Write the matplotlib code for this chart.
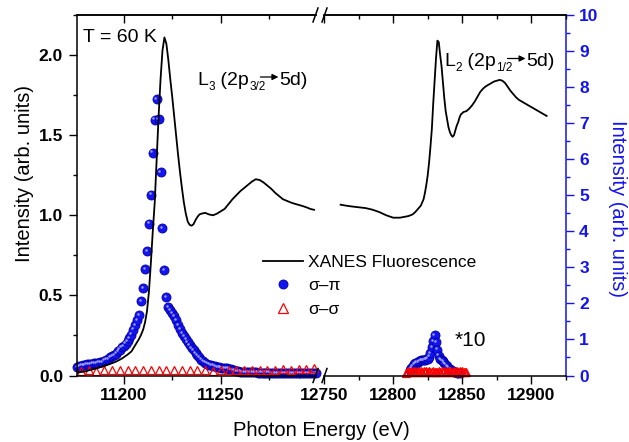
import numpy as np
import matplotlib
matplotlib.use("Agg")
import matplotlib.pyplot as plt
import matplotlib.transforms as mtransforms
from matplotlib.lines import Line2D
from matplotlib.ticker import MultipleLocator, FormatStrFormatter

plt.rcParams["font.family"] = ["Liberation Sans", "DejaVu Sans"]

# XANES fluorescence, L3 edge (left scale)
xanes_l3_e = [11176, 11180, 11186, 11190, 11193, 11196, 11199, 11202, 11204, 11206,
              11208, 11209, 11210, 11211, 11212, 11213, 11214, 11215, 11216, 11217,
              11218, 11219, 11220, 11221, 11222, 11223, 11224, 11225, 11226, 11227,
              11228, 11229, 11230, 11231, 11232, 11233, 11234, 11235, 11236, 11237,
              11238, 11239, 11240, 11242, 11244, 11246, 11248, 11250, 11252, 11254,
              11256, 11258, 11260, 11262, 11264, 11266, 11268, 11270, 11272, 11274,
              11276, 11278, 11280, 11282, 11284, 11286, 11288, 11290, 11292, 11294,
              11296, 11298]
xanes_l3_i = [0.018, 0.025, 0.045, 0.060, 0.072, 0.086, 0.105, 0.130, 0.150, 0.190,
              0.230, 0.255, 0.285, 0.330, 0.400, 0.520, 0.700, 0.900, 1.080, 1.350,
              1.620, 1.850, 2.030, 2.110, 2.070, 1.970, 1.850, 1.740, 1.620, 1.500,
              1.380, 1.270, 1.170, 1.080, 1.010, 0.960, 0.940, 0.935, 0.945, 0.970,
              0.990, 1.005, 1.010, 1.015, 1.005, 1.000, 1.010, 1.025, 1.040, 1.070,
              1.100, 1.125, 1.150, 1.170, 1.190, 1.210, 1.225, 1.220, 1.205, 1.185,
              1.165, 1.140, 1.120, 1.100, 1.090, 1.080, 1.072, 1.065, 1.058, 1.050,
              1.040, 1.034]

# XANES fluorescence, L2 edge (left scale)
xanes_l2_e = [12762, 12766, 12770, 12775, 12780, 12785, 12790, 12795, 12800, 12805,
              12808, 12811, 12814, 12816, 12818, 12820, 12822, 12823, 12824, 12825,
              12826, 12827, 12828, 12829, 12830, 12831, 12832, 12833, 12834, 12835,
              12836, 12837, 12838, 12839, 12840, 12841, 12842, 12843, 12844, 12845,
              12846, 12847, 12848, 12849, 12851, 12853, 12855, 12857, 12859, 12861,
              12863, 12865, 12867, 12869, 12871, 12873, 12875, 12877, 12879, 12881,
              12883, 12885, 12887, 12889, 12891, 12894, 12897, 12900, 12903, 12906,
              12909, 12911]
xanes_l2_i = [1.066, 1.060, 1.055, 1.050, 1.045, 1.035, 1.020, 1.000, 0.985, 0.985,
              0.990, 0.995, 1.005, 1.020, 1.040, 1.060, 1.100, 1.140, 1.190, 1.250,
              1.330, 1.430, 1.540, 1.700, 1.840, 1.980, 2.090, 2.080, 2.000, 1.930,
              1.830, 1.730, 1.650, 1.600, 1.550, 1.520, 1.500, 1.490, 1.500, 1.530,
              1.560, 1.580, 1.610, 1.630, 1.645, 1.650, 1.665, 1.685, 1.710, 1.740,
              1.770, 1.790, 1.805, 1.815, 1.825, 1.835, 1.840, 1.845, 1.840, 1.825,
              1.800, 1.775, 1.755, 1.735, 1.720, 1.705, 1.690, 1.675, 1.660, 1.645,
              1.630, 1.620]

# sigma-pi scattering, L3 (right scale), 1 eV steps from 11176 eV
sp_l3_i = [0.24, 0.26, 0.27, 0.28, 0.29, 0.31, 0.32, 0.32, 0.33, 0.34,
           0.35, 0.36, 0.37, 0.38, 0.41, 0.44, 0.46, 0.50, 0.53, 0.57,
           0.61, 0.67, 0.72, 0.78, 0.82, 0.88, 0.96, 1.03, 1.13, 1.27,
           1.40, 1.53, 1.68, 2.07, 2.42, 2.95, 3.44, 4.21, 5.02, 6.18,
           7.10, 7.67, 7.11, 5.64, 4.09, 2.93, 2.18, 1.89, 1.82, 1.73,
           1.64, 1.53, 1.40, 1.29, 1.18, 1.09, 1.01, 0.93, 0.84, 0.76,
           0.70, 0.62, 0.56, 0.50, 0.44, 0.40, 0.36, 0.33, 0.30, 0.28,
           0.27, 0.25, 0.24, 0.23, 0.22, 0.21, 0.20, 0.20, 0.19, 0.17,
           0.15, 0.14, 0.12, 0.12, 0.11, 0.10, 0.10, 0.10, 0.09, 0.09,
           0.09, 0.09, 0.09, 0.08, 0.08, 0.08, 0.08, 0.08, 0.08, 0.08,
           0.07, 0.07, 0.07, 0.07, 0.07, 0.07, 0.07, 0.07, 0.07, 0.07,
           0.07, 0.07, 0.06, 0.06, 0.06, 0.06, 0.06, 0.06, 0.06, 0.06,
           0.06, 0.06, 0.06, 0.06]
sp_l3_e = np.arange(11176, 11176 + len(sp_l3_i))

# sigma-pi scattering, L2 (right scale, x10), 1 eV steps from 12812 eV
sp_l2_i = [0.15, 0.20, 0.26, 0.31, 0.34, 0.36, 0.38, 0.40, 0.42, 0.42,
           0.43, 0.44, 0.45, 0.47, 0.52, 0.62, 0.78, 0.95, 1.12, 0.92,
           0.72, 0.55, 0.45, 0.42, 0.40, 0.35, 0.30, 0.25, 0.22, 0.18,
           0.15, 0.13, 0.11, 0.09, 0.08, 0.07, 0.06]
sp_l2_e = np.arange(12812, 12812 + len(sp_l2_i))

# sigma-sigma scattering (right scale)
ss_l3_i = [0.12, 0.14, 0.13, 0.15, 0.14, 0.16, 0.15, 0.14, 0.16, 0.15,
           0.14, 0.16, 0.15, 0.14, 0.15, 0.16, 0.14, 0.13, 0.15, 0.14,
           0.15, 0.16, 0.15, 0.14, 0.16, 0.15, 0.17, 0.16, 0.18, 0.17, 0.22]
ss_l3_e = np.arange(11178, 11178 + 4 * len(ss_l3_i), 4)
ss_l2_i = [0.08, 0.10, 0.12, 0.10, 0.11, 0.13, 0.11, 0.12, 0.10, 0.13,
           0.11, 0.12, 0.10, 0.12, 0.11, 0.13, 0.10, 0.12, 0.11, 0.10,
           0.12, 0.11, 0.09, 0.10, 0.12, 0.11, 0.13, 0.10, 0.12, 0.11,
           0.10, 0.12, 0.13, 0.11, 0.10, 0.12, 0.11, 0.13, 0.10, 0.12,
           0.11, 0.12, 0.10, 0.11, 0.09]
ss_l2_e = np.arange(12809, 12809 + len(ss_l2_i))

W, H = 629, 442
BLUE = "#1414f0"
fig = plt.figure(figsize=(W / 100, H / 100), dpi=100)


def rect(x0, y0, x1, y1):
    return [x0 / W, 1 - y1 / H, (x1 - x0) / W, (y1 - y0) / H]


axL = fig.add_axes(rect(77, 15, 316, 375.5))
axR = fig.add_axes(rect(324, 15, 566, 375.5))
axL2 = axL.twinx()
axR2 = axR.twinx()
for host, twin in ((axL, axL2), (axR, axR2)):
    host.set_zorder(twin.get_zorder() + 1)
    host.patch.set_visible(False)


def balls(ax, x, y, ms=6.5):
    ax.plot(x, y, "o", ms=ms, color=BLUE, mec="#0000a8", mew=0.6, clip_on=False)
    hl = mtransforms.offset_copy(ax.transData, fig=fig, x=-1.3, y=1.3, units="dots")
    ax.plot(x, y, "o", ms=1.8, color="#9c9cff", mew=0, transform=hl, clip_on=False)


tri = dict(marker="^", ls="none", ms=5.5, mfc="none", mec="red", mew=0.9, clip_on=False)

balls(axL2, sp_l3_e, sp_l3_i)
axL2.plot(ss_l3_e, ss_l3_i, **tri)
balls(axR2, sp_l2_e, sp_l2_i)
axR2.plot(ss_l2_e, ss_l2_i, **tri)

axL.plot(xanes_l3_e, xanes_l3_i, color="k", lw=1.3)
axR.plot(xanes_l2_e, xanes_l2_i, color="k", lw=1.3)

axL.set_xlim(11176, 11299)
axR.set_xlim(12750, 12925)
for ax in (axL, axR):
    ax.set_ylim(0, 2.25)
for ax in (axL2, axR2):
    ax.set_ylim(0, 10)

for ax in (axL, axR):
    ax.xaxis.set_major_locator(MultipleLocator(50))
    ax.xaxis.set_minor_locator(MultipleLocator(25))
    ax.tick_params(axis="x", which="major", direction="out", length=6, width=1, pad=3)
    ax.tick_params(axis="x", which="minor", direction="out", length=3, width=1)
    for lab in ax.get_xticklabels():
        lab.set_fontsize(12.5)
        lab.set_fontweight("bold")
    top = ax.secondary_xaxis("top")
    top.xaxis.set_major_locator(MultipleLocator(50))
    top.xaxis.set_minor_locator(MultipleLocator(25))
    top.tick_params(which="major", direction="in", length=6, width=1, labeltop=False)
    top.tick_params(which="minor", direction="in", length=3, width=1)
    top.spines["top"].set_linewidth(1.1)
    for s in ax.spines.values():
        s.set_linewidth(1.1)

axL.spines["right"].set_visible(False)
axR.spines["left"].set_visible(False)
axR.spines["right"].set_visible(False)
axR.tick_params(axis="y", left=False, labelleft=False)

axL.yaxis.set_major_locator(MultipleLocator(0.5))
axL.yaxis.set_minor_locator(MultipleLocator(0.25))
axL.yaxis.set_major_formatter(FormatStrFormatter("%.1f"))
axL.tick_params(axis="y", which="major", direction="out", length=6, width=1, pad=4)
axL.tick_params(axis="y", which="minor", direction="out", length=3, width=1)
for lab in axL.get_yticklabels():
    lab.set_fontsize(12.5)
    lab.set_fontweight("bold")

for s in axL2.spines.values():
    s.set_visible(False)
axL2.tick_params(axis="y", right=False, labelright=False, which="both")

for name in ("left", "top", "bottom"):
    axR2.spines[name].set_visible(False)
axR2.spines["right"].set_color(BLUE)
axR2.spines["right"].set_linewidth(1.1)
axR2.yaxis.set_major_locator(MultipleLocator(1))
axR2.yaxis.set_minor_locator(MultipleLocator(0.5))
axR2.tick_params(axis="y", which="major", direction="out", length=6, width=1,
                 pad=3.5, colors=BLUE)
axR2.tick_params(axis="y", which="minor", direction="out", length=3, width=1,
                 colors=BLUE)
for lab in axR2.get_yticklabels():
    lab.set_fontsize(12.5)
    lab.set_fontweight("bold")

# axis titles
fig.text(321 / W, 1 - 436 / H, "Photon Energy (eV)", ha="center", va="baseline",
         fontsize=14.5)
fig.text(25 / W, 1 - 174 / H, "Intensity (arb. units)", rotation=90,
         ha="center", va="center", fontsize=14.5)
fig.text(617 / W, 1 - 209 / H, "Intensity (arb. units)", rotation=270,
         ha="center", va="center", fontsize=14.5, color=BLUE)

fig.text(83 / W, 1 - 38 / H, "T = 60 K", ha="left", va="center", fontsize=14)
fig.text(455 / W, 1 - 340 / H, "*10", ha="left", va="center", fontsize=15)

# edge labels, set piece by piece so the subscripts and arrow sit right
renderer = fig.canvas.get_renderer()
arrow = dict(arrowstyle="-|>", lw=0.9, color="k", mutation_scale=9,
             shrinkA=0, shrinkB=0)


def put(x, base, s, size=14, drop=0):
    t = fig.text(x / W, 1 - (base + drop) / H, s, ha="left", va="baseline",
                 fontsize=size)
    bb = t.get_window_extent(renderer=renderer)
    return bb.x0, bb.x1


def edge_label(x, base, edge, half):
    x = put(x, base, "L")[1]
    x = put(x + 0.5, base, edge, size=8.5, drop=4.5)[1]
    x = put(x, base, " (2p")[1]
    x = put(x + 0.5, base, half, size=8.5, drop=4.5)[1]
    a0, a1 = x - 5, x + 13
    axL.annotate("", xy=(a1, H - (base - 8)), xytext=(a0, H - (base - 8)),
                 xycoords="figure pixels", textcoords="figure pixels",
                 arrowprops=arrow, annotation_clip=False)
    put(a1 + 1, base, "5d)")


edge_label(197, 85, "3", "3/2")
edge_label(444, 66.5, "2", "1/2")

# axis break marks
for xs in ((313, 318), (322, 327)):
    for y0 in (375.5, 15):
        fig.add_artist(Line2D([xs[0] / W, xs[1] / W],
                              [1 - (y0 + 7) / H, 1 - (y0 - 7) / H],
                              transform=fig.transFigure, color="k", lw=1.1))

handles = [
    Line2D([], [], color="k", lw=1.3),
    Line2D([], [], marker="o", ls="none", ms=6.5, color=BLUE, mec="#0000a8", mew=0.6),
    Line2D([], [], marker="^", ls="none", ms=6.5, mfc="none", mec="red", mew=0.9),
]
fig.legend(handles, ["XANES Fluorescence", "\u03c3\u2013\u03c0", "\u03c3\u2013\u03c3"],
           loc="upper left", bbox_to_anchor=(263 / W, 1 - 255 / H),
           frameon=False, fontsize=12.5, handlelength=2.3, handletextpad=0.3,
           labelspacing=0.47, borderpad=0, borderaxespad=0)

fig.savefig("out.png", dpi=100)
plt.close(fig)
